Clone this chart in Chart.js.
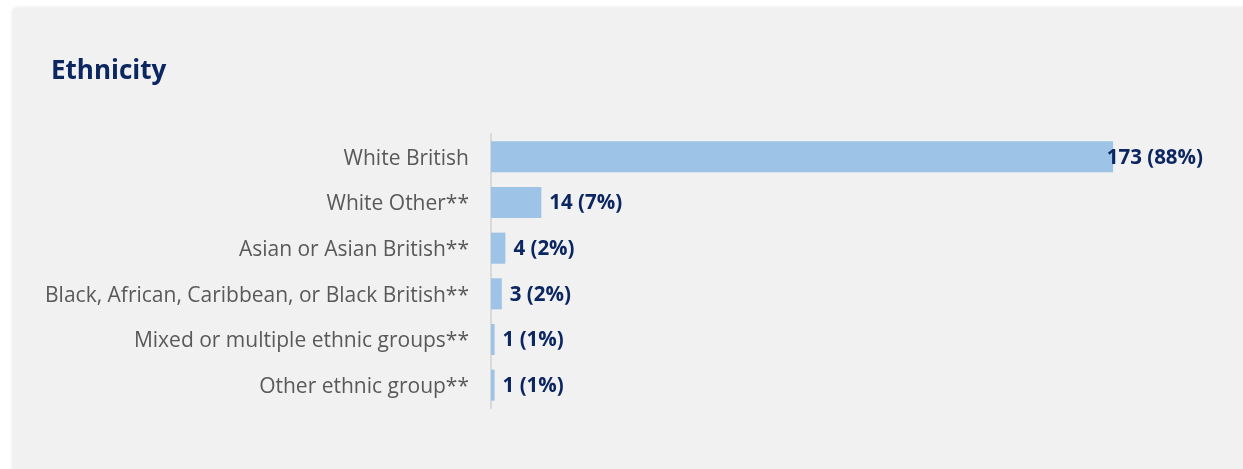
<!DOCTYPE html>
<html>
<head>
<meta charset="utf-8">
<script src="https://cdn.jsdelivr.net/npm/chart.js@4"></script>
<style>
  html, body { margin: 0; padding: 0; background: #ffffff; }
  body { width: 1243px; height: 469px; position: relative; overflow: hidden; }
  .panel {
    position: absolute; left: 13px; top: 8px; width: 1250px; height: 480px;
    background: #f1f1f1; border-radius: 4px;
    box-shadow: 0 0 4px rgba(0,0,0,0.12);
  }
  .wrap { position: absolute; left: 0; top: 0; width: 1243px; height: 469px; }
</style>
</head>
<body>
<div class="panel"></div>
<div class="wrap"><canvas id="grafico" width="1243" height="469"></canvas></div>
<script>
// dados
const categorias = [
  "White British",
  "White Other**",
  "Asian or Asian British**",
  "Black, African, Caribbean, or Black British**",
  "Mixed or multiple ethnic groups**",
  "Other ethnic group**"
];
const contagens = [173, 14, 4, 3, 1, 1];
const percentuais = [88, 7, 2, 2, 1, 1];
const titulo = "Ethnicity";

const fonte = "'Open Sans', sans-serif";
const azulEscuro = "#0b2660";

// título no canto superior esquerdo
const cabecalho = {
  id: "cabecalho",
  afterDraw(chart) {
    const ctx = chart.ctx;
    ctx.save();
    ctx.font = "bold 26px " + fonte;
    ctx.fillStyle = azulEscuro;
    ctx.textBaseline = "middle";
    ctx.textAlign = "left";
    ctx.fillText(titulo, 51, 72);
    ctx.restore();
  }
};

// rótulos no fim das barras
const rotulos = {
  id: "rotulos",
  afterDatasetsDraw(chart) {
    const ctx = chart.ctx;
    const area = chart.chartArea;
    const meta = chart.getDatasetMeta(0);
    ctx.save();
    ctx.font = "bold 20.5px " + fonte;
    ctx.fillStyle = azulEscuro;
    ctx.textBaseline = "middle";
    ctx.textAlign = "left";
    meta.data.forEach(function(bar, i) {
      const txt = contagens[i] + " (" + percentuais[i] + "%)";
      const w = ctx.measureText(txt).width;
      let x = bar.x + 8;
      if (x + w > area.right) x = area.right - w;
      ctx.fillText(txt, x, bar.y + 1);
    });
    ctx.restore();
  }
};

new Chart("grafico", {
  type: "bar",
  data: {
    labels: categorias,
    datasets: [{
      data: contagens,
      backgroundColor: "#9dc3e6",
      categoryPercentage: 1,
      barPercentage: 0.68
    }]
  },
  options: {
    indexAxis: "y",
    responsive: false,
    animation: false,
    layout: { padding: { left: 20, right: 40, top: 134, bottom: 61 } },
    plugins: {
      legend: { display: false },
      tooltip: { enabled: false },
      title: { display: false }
    },
    scales: {
      x: { display: false, min: 0, max: 198 },
      y: {
        afterFit(scale) { scale.width = 471; },
        grid: { display: false },
        border: { display: true, color: "#d9d9d9", width: 2 },
        ticks: {
          color: "#595959",
          padding: 14,
          labelOffset: 2,
          font: { family: fonte, size: 21 }
        }
      }
    }
  },
  plugins: [rotulos, cabecalho]
});
</script>
</body>
</html>
